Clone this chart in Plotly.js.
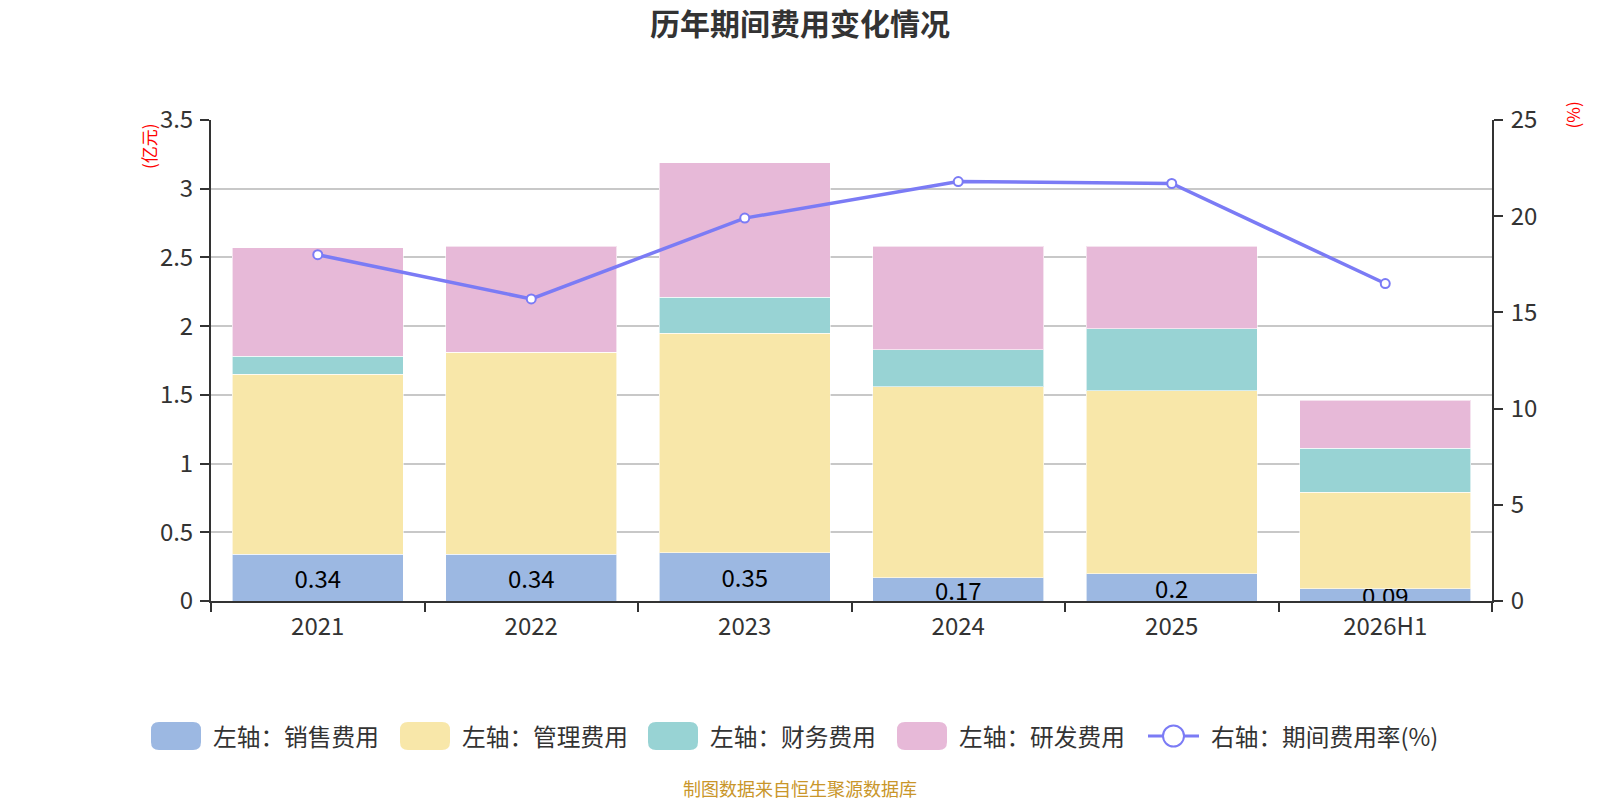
<!DOCTYPE html>
<html>
<head>
<meta charset="utf-8">
<script src="https://cdn.plot.ly/plotly-3.0.1.min.js"></script>
<style>
html,body{margin:0;padding:0;background:#fff;}
#chart{width:1600px;height:800px;}
</style>
</head>
<body>
<div id="chart"></div>
<script>
var categories = ["2021", "2022", "2023", "2024", "2025", "2026H1"];
var salesExpense = [0.34, 0.34, 0.35, 0.17, 0.20, 0.09];
var adminExpense = [1.31, 1.47, 1.60, 1.39, 1.33, 0.70];
var financeExpense = [0.13, 0.00, 0.26, 0.27, 0.45, 0.32];
var rdExpense = [0.79, 0.77, 0.98, 0.75, 0.60, 0.35];
var expenseRate = [18.0, 15.7, 19.9, 21.8, 21.7, 16.5];
var seriesNames = ["左轴：销售费用", "左轴：管理费用", "左轴：财务费用", "左轴：研发费用", "右轴：期间费用率(%)"];
var leftTicks = [0, 0.5, 1, 1.5, 2, 2.5, 3, 3.5];
var rightTicks = [0, 5, 10, 15, 20, 25];

var FONT = '"Noto Sans CJK SC", "Noto Sans", sans-serif';
var colors = ["#9cb8e2", "#f8e7a9", "#98d3d4", "#e7b9d8", "#7b7bf5"];

// plot area geometry (pixels)
var W = 1600, H = 800;
var M = {l: 211, r: 108, t: 120, b: 199};
var PW = W - M.l - M.r, PH = H - M.t - M.b;
function px(x) { return (x - M.l) / PW; }
function py(y) { return (H - M.b - y) / PH; }

function barTrace(name, vals, color, withText) {
  var t = {
    type: "bar",
    name: name,
    x: categories,
    y: vals,
    yaxis: "y",
    marker: {color: color, line: {color: "rgba(255,255,255,0.6)", width: 1}},
    hoverinfo: "x+y+name"
  };
  if (withText) {
    t.text = vals.map(function (v) { return String(v); });
    t.textposition = "inside";
    t.insidetextanchor = "middle";
    t.constraintext = "none";
    t.textangle = 0;
    t.textfont = {family: FONT, size: 24, color: "#000"};
  }
  return t;
}

var traces = [
  barTrace(seriesNames[0], salesExpense, colors[0], true),
  barTrace(seriesNames[1], adminExpense, colors[1], false),
  barTrace(seriesNames[2], financeExpense, colors[2], false),
  barTrace(seriesNames[3], rdExpense, colors[3], false),
  {
    type: "scatter",
    mode: "lines+markers",
    name: seriesNames[4],
    x: categories,
    y: expenseRate,
    yaxis: "y2",
    line: {color: colors[4], width: 3.5},
    marker: {color: "#fff", size: 9, line: {color: colors[4], width: 2}}
  }
];

// custom legend (layout decoration)
function roundedRect(x0, y0, x1, y1, r) {
  function P(x, y) { return px(x) + "," + py(y); }
  return "M" + P(x0 + r, y0) +
    " L" + P(x1 - r, y0) + " Q" + P(x1, y0) + " " + P(x1, y0 + r) +
    " L" + P(x1, y1 - r) + " Q" + P(x1, y1) + " " + P(x1 - r, y1) +
    " L" + P(x0 + r, y1) + " Q" + P(x0, y1) + " " + P(x0, y1 - r) +
    " L" + P(x0, y0 + r) + " Q" + P(x0, y0) + " " + P(x0 + r, y0) + " Z";
}
var legendY = 736;
var swatchX = [151, 400, 648, 897];
var lineX = 1148;
var textX = [211, 460, 708, 957, 1209];
var shapes = [];
var annotations = [];
for (var i = 0; i < 4; i++) {
  shapes.push({
    type: "path", xref: "paper", yref: "paper",
    path: roundedRect(swatchX[i], legendY - 14, swatchX[i] + 50, legendY + 14, 8),
    fillcolor: colors[i], line: {width: 0}, layer: "above"
  });
}
shapes.push({
  type: "line", xref: "paper", yref: "paper",
  x0: px(lineX), x1: px(lineX + 51), y0: py(legendY), y1: py(legendY),
  line: {color: colors[4], width: 3}, layer: "above"
});
shapes.push({
  type: "circle", xref: "paper", yref: "paper",
  x0: px(lineX + 25.5 - 10.5), x1: px(lineX + 25.5 + 10.5),
  y0: py(legendY - 10.5), y1: py(legendY + 10.5),
  fillcolor: "#fff", line: {color: colors[4], width: 2}, layer: "above"
});
for (var j = 0; j < seriesNames.length; j++) {
  annotations.push({
    text: seriesNames[j], xref: "paper", yref: "paper",
    x: px(textX[j]), y: py(legendY), xanchor: "left", yanchor: "middle",
    showarrow: false, font: {family: FONT, size: 23.7, color: "#333"}
  });
}
annotations.push({
  text: "(亿元)", xref: "paper", yref: "paper",
  x: px(148), y: py(146), xanchor: "center", yanchor: "middle",
  textangle: -90, showarrow: false,
  font: {family: FONT, size: 17, color: "#ff0000"}
});
annotations.push({
  text: "(%)", xref: "paper", yref: "paper",
  x: px(1572), y: py(115.5), xanchor: "center", yanchor: "middle",
  textangle: -90, showarrow: false,
  font: {family: FONT, size: 17, color: "#ff0000"}
});
annotations.push({
  text: "制图数据来自恒生聚源数据库", xref: "paper", yref: "paper",
  x: px(800), y: py(788), xanchor: "center", yanchor: "middle",
  showarrow: false,
  font: {family: FONT, size: 18, color: "#c9962a"}
});

var axisCommon = {
  showline: true,
  linecolor: "#333",
  linewidth: 2,
  ticks: "outside",
  ticklen: 9,
  tickwidth: 2,
  tickcolor: "#333",
  zeroline: false,
  tickfont: {family: FONT, size: 24, color: "#333"},
  fixedrange: true
};
function extend(base, extra) {
  var o = {};
  for (var k in base) o[k] = base[k];
  for (var k2 in extra) o[k2] = extra[k2];
  return o;
}

var layout = {
  width: W,
  height: H,
  paper_bgcolor: "#fff",
  plot_bgcolor: "#fff",
  barmode: "stack",
  bargap: 0.2,
  margin: {l: M.l, r: M.r, t: M.t, b: M.b, pad: 0},
  font: {family: FONT, color: "#333", size: 24},
  title: {
    text: "<b>历年期间费用变化情况</b>",
    font: {family: FONT, size: 30, color: "#333"},
    x: 0.5, xanchor: "center",
    y: 1 - 24 / H, yanchor: "middle"
  },
  showlegend: false,
  xaxis: extend(axisCommon, {
    type: "category",
    tickson: "boundaries",
    showgrid: false,
    ticklabelstandoff: 3
  }),
  yaxis: extend(axisCommon, {
    range: [0, 3.5],
    tickvals: leftTicks,
    ticktext: leftTicks.map(String),
    showgrid: true,
    gridcolor: "#c8c8c8",
    gridwidth: 2,
    ticklabelstandoff: 2
  }),
  yaxis2: extend(axisCommon, {
    overlaying: "y",
    side: "right",
    range: [0, 25],
    tickvals: rightTicks,
    ticktext: rightTicks.map(String),
    showgrid: false,
    ticklabelstandoff: 3
  }),
  shapes: shapes,
  annotations: annotations
};

Plotly.newPlot("chart", traces, layout, {displayModeBar: false, staticPlot: true});
</script>
</body>
</html>
